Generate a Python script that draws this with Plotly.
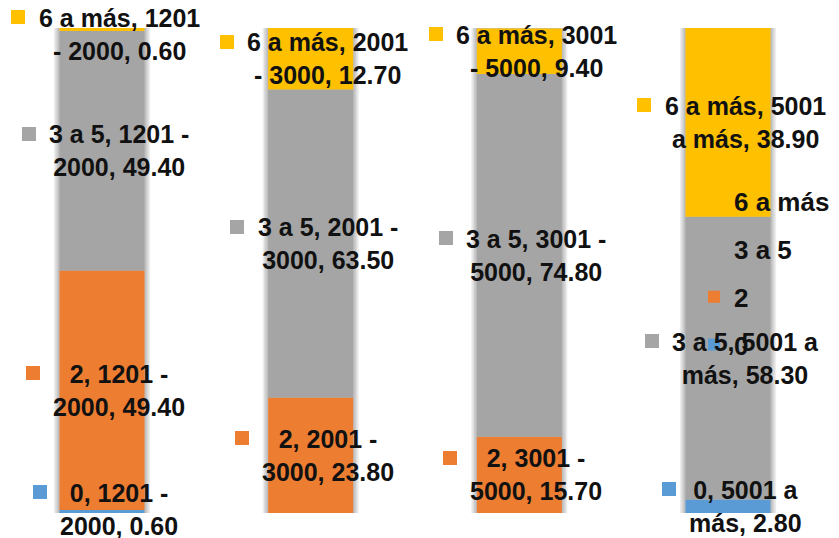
import numpy as np
import plotly.graph_objects as go

# ---- data -------------------------------------------------------------
categories = ["1201 - 2000", "2001 - 3000", "3001 - 5000", "5001 a más"]
series_names = ["0", "2", "3 a 5", "6 a más"]
vals_0 = [0.60, None, None, 2.80]
vals_2 = [49.40, 23.80, 15.70, None]
vals_3a5 = [49.40, 63.50, 74.80, 58.30]
vals_6mas = [0.60, 12.70, 9.40, 38.90]
series_colors = ["#5B9BD5", "#ED7D31", "#A5A5A5", "#FFC000"]

series_values = [vals_0, vals_2, vals_3a5, vals_6mas]

# ---- geometry / style -------------------------------------------------
W, H = 839, 538
M_T, M_B = 28, 25
PLOT_H = H - M_T - M_B
PX_PER_CAT = 208.67          # horizontal distance between bar centres
FIRST_CENTER = 102           # pixel position of the first bar centre
BAR_W = 85 / PX_PER_CAT
X_RANGE = [-FIRST_CENTER / PX_PER_CAT, (W - FIRST_CENTER) / PX_PER_CAT]
PX_PER_UNIT = PLOT_H / 100.0

FONT = "Liberation Sans"
LABEL_SIZE = 25
TEXT_COLOR = "#111111"
LABEL_DX = 17                # text block offset to the right of bar centre
KEY = 14                     # size of the little colour key next to labels
KEY_GAP = 13
KEY_DY = 17                  # key sits on the first text line
LABEL_MIN_PX, LABEL_MAX_PX = 34, 509   # keep labels inside the chart area

# Arial/Liberation Sans Bold advance widths (em)
CHAR_W = {" ": .278, ",": .278, ".": .278, "-": .333, "m": .889}


def text_width(s):
    return sum(CHAR_W.get(c, .556) for c in s) * LABEL_SIZE


def wrap_two(s, maxc=13):
    words = s.split(" ")
    line1 = words[0]
    i = 1
    while i < len(words) and len(line1) + 1 + len(words[i]) <= maxc:
        line1 += " " + words[i]
        i += 1
    return [line1, " ".join(words[i:])]


fig = go.Figure()

# soft drop shadow behind each column
arr = np.array([[v if v is not None else 0 for v in s] for s in series_values])
totals = arr.sum(axis=0)
for k in range(1, 5):
    fig.add_trace(go.Bar(
        x=categories, y=totals + 2 * k / PX_PER_UNIT, base=-k / PX_PER_UNIT,
        width=BAR_W + 2 * 1.4 * k / PX_PER_CAT,
        marker=dict(color="rgba(0,0,0,0.07)", line=dict(width=0)),
        showlegend=False, hoverinfo="skip", legendgroup="shadow"))

# stacked columns (explicit bases so the shadow layers do not stack)
bases = np.vstack([np.zeros(len(categories)), np.cumsum(arr, axis=0)[:-1]])
n = len(series_names)
for i, (name, vals, color, base) in enumerate(zip(series_names, series_values, series_colors, bases)):
    fig.add_trace(go.Bar(
        x=categories, y=vals, base=base, name=name, width=BAR_W,
        marker=dict(color=color, line=dict(width=0)),
        legendgroup=name, legendrank=n - i))

# data labels: "serie, categoría, valor" with a colour key on the left
annotations = []
for name, vals, color, base in zip(series_names, series_values, series_colors, bases):
    for ci, (cat, v) in enumerate(zip(categories, vals)):
        if v is None:
            continue
        mid = base[ci] + v / 2
        px = M_T + PLOT_H * (1 - mid / 100)
        px = min(max(px, LABEL_MIN_PX), LABEL_MAX_PX)
        y_lab = 100 * (1 - (px - M_T) / PLOT_H)
        lines = wrap_two(f"{name}, {cat}, {v:.2f}")
        wmax = max(text_width(l) for l in lines)
        annotations.append(dict(
            x=ci, y=y_lab, xref="x", yref="y", xshift=LABEL_DX,
            text="<br>".join(lines), showarrow=False,
            xanchor="center", yanchor="middle", align="center",
            font=dict(family=FONT, size=LABEL_SIZE, color=TEXT_COLOR, weight=700)))
        annotations.append(dict(
            x=ci, y=y_lab, xref="x", yref="y",
            xshift=LABEL_DX - wmax / 2 - KEY_GAP - KEY / 2, yshift=KEY_DY,
            text="&#160;", showarrow=False, xanchor="center", yanchor="middle",
            width=KEY, height=KEY, bgcolor=color, borderpad=0, borderwidth=0,
            font=dict(size=8)))

fig.update_layout(
    width=W, height=H,
    margin=dict(l=0, r=0, t=M_T, b=M_B, pad=0),
    barmode="overlay",
    paper_bgcolor="white", plot_bgcolor="white",
    xaxis=dict(range=X_RANGE, visible=False, type="category"),
    yaxis=dict(range=[0, 100], visible=False),
    legend=dict(
        x=694 / W, y=1 - 166 / H, xanchor="left", yanchor="top",
        traceorder="grouped", tracegroupgap=11,
        bgcolor="rgba(0,0,0,0)",
        font=dict(family=FONT, size=26, color=TEXT_COLOR, weight=700)),
    annotations=annotations,
    showlegend=True,
)

fig.write_html("out.html")
